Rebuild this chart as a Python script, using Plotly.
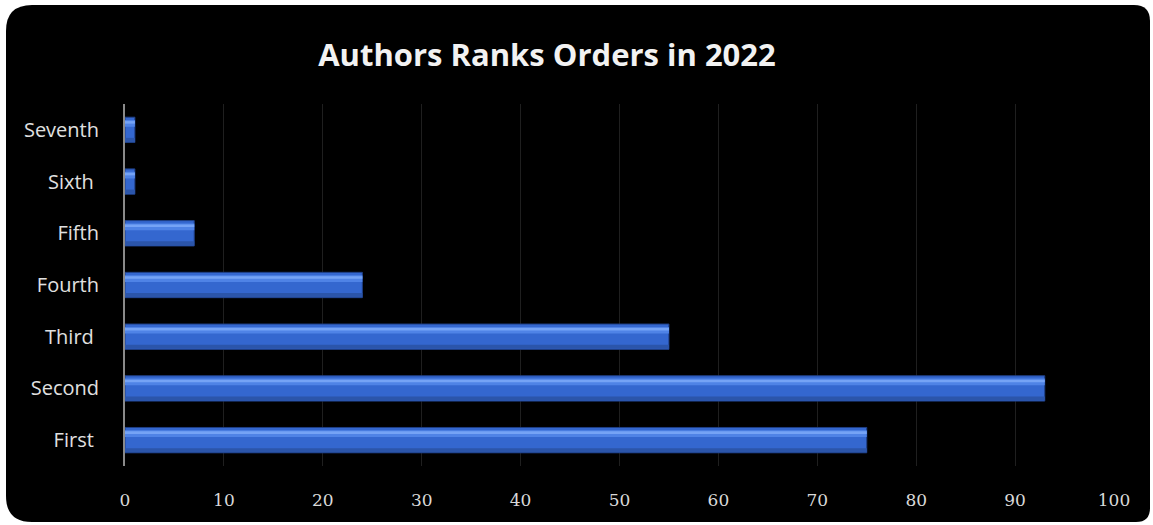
import plotly.graph_objects as go

categories = ["First", "Second", "Third", "Fourth", "Fifth", "Sixth", "Seventh"]
tick_labels = ["First\u00a0", "Second", "Third\u00a0", "Fourth", "Fifth", "Sixth\u00a0", "Seventh"]
values = [75, 93, 55, 24, 7, 1, 1]
tick_vals = [0, 10, 20, 30, 40, 50, 60, 70, 80, 90, 100]
title_text = "Authors Ranks Orders in 2022"

W, H = 1153, 525
ML, MR, MT, MB = 125, 39, 104, 59
PW, PH = W - ML - MR, H - MT - MB

def px(x):
    return (x - ML) / PW

def py(y):
    return (H - MB - y) / PH

fig = go.Figure()
fig.add_trace(go.Bar(
    y=categories, x=values, orientation="h", width=0.49,
    marker=dict(color="#3467cf", line=dict(color="#1f3f85", width=1)),
    hoverinfo="x+y", showlegend=False,
))
fig.add_trace(go.Bar(
    y=categories, x=values, orientation="h", width=0.13, offset=0.06,
    marker=dict(color="#4f83e6", line=dict(width=0)),
    hoverinfo="skip", showlegend=False,
))
fig.add_trace(go.Bar(
    y=categories, x=values, orientation="h", width=0.05, offset=0.12,
    marker=dict(color="#75a3f5", line=dict(width=0)),
    hoverinfo="skip", showlegend=False,
))
fig.add_trace(go.Bar(
    y=categories, x=values, orientation="h", width=0.08, offset=-0.235,
    marker=dict(color="#2b55aa", line=dict(width=0)),
    hoverinfo="skip", showlegend=False,
))

# rounded black panel
x0, x1, y0, y1 = 6, 1150, 5, 522
r1, r2, r3, r4 = 26, 16, 14, 26
path = (
    f"M {px(x0)},{py(y0 + r1)} Q {px(x0)},{py(y0)} {px(x0 + r1)},{py(y0)} "
    f"L {px(x1 - r2)},{py(y0)} Q {px(x1)},{py(y0)} {px(x1)},{py(y0 + r2)} "
    f"L {px(x1)},{py(y1 - r3)} Q {px(x1)},{py(y1)} {px(x1 - r3)},{py(y1)} "
    f"L {px(x0 + r4)},{py(y1)} Q {px(x0)},{py(y1)} {px(x0)},{py(y1 - r4)} Z"
)
fig.add_shape(type="path", path=path, xref="paper", yref="paper",
              fillcolor="black", line=dict(width=0), layer="below")

fig.update_layout(
    width=W, height=H,
    margin=dict(l=ML, r=MR, t=MT, b=MB),
    paper_bgcolor="white", plot_bgcolor="rgba(0,0,0,0)",
    barmode="overlay",
    title=dict(text=f"<b>{title_text}</b>", x=547 / W, xanchor="center",
               y=1 - 55 / H, yanchor="middle",
               font=dict(family="Open Sans, Lato, sans-serif", size=31, color="#f2f2f2")),
    xaxis=dict(range=[0, 100], tickvals=tick_vals, showgrid=True,
               gridcolor="#1f1f1f", gridwidth=1, zeroline=False, showline=False,
               ticks="", ticklabelstandoff=22,
               tickfont=dict(family="DejaVu Serif, serif", size=17, color="#d9d9d9")),
    yaxis=dict(categoryorder="array", categoryarray=categories,
               tickvals=categories, ticktext=tick_labels,
               range=[-0.5, 6.5], showgrid=False, zeroline=False,
               showline=True, linecolor="#8a8a8a", linewidth=2,
               ticks="", ticklabelstandoff=20,
               tickfont=dict(family="Open Sans, Lato, sans-serif", size=20, color="#e0e0e0")),
)

fig.write_html("out.html", config={"displayModeBar": False},
               post_script="document.body.style.margin='0';")
